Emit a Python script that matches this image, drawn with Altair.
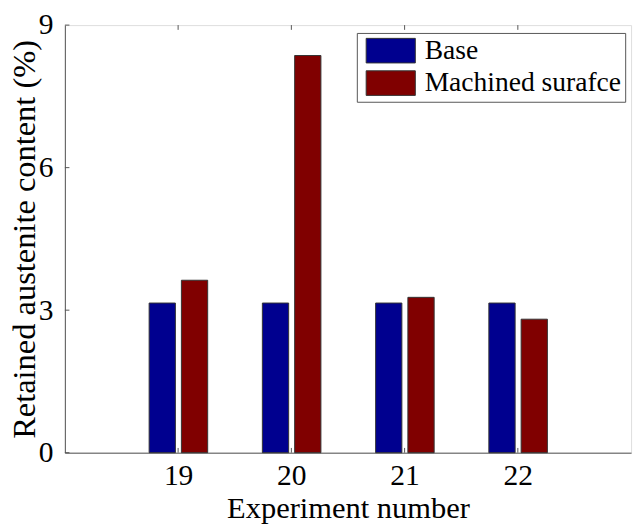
import altair as alt
import pandas as pd

experiments = [19, 20, 21, 22]
base = [3.15, 3.15, 3.15, 3.15]
machined = [3.63, 8.36, 3.27, 2.81]
series = ["Base", "Machined surafce"]
offsets = [-0.14, 0.145]
colors = ["#00008F", "#800000"]
y_ticks = [0, 3, 6, 9]

rows = []
for i, e in enumerate(experiments):
    rows.append({"exp": e, "series": series[0], "value": base[i], "off": offsets[0]})
    rows.append({"exp": e, "series": series[1], "value": machined[i], "off": offsets[1]})
df = pd.DataFrame(rows)

FONT = "Liberation Serif"
half = 0.116

xscale = alt.Scale(domain=[18, 23], nice=False, zero=False)
yscale = alt.Scale(domain=[0, 9], nice=False)

bars = alt.Chart(df).transform_calculate(
    x0=f"datum.exp + datum.off - {half}",
    x1=f"datum.exp + datum.off + {half}",
).mark_rect(stroke="#333333", strokeWidth=1).encode(
    x=alt.X("x0:Q", scale=xscale,
            axis=alt.Axis(values=experiments, title="Experiment number", format="d",
                          labelFont=FONT, labelFontSize=30, titleFont=FONT,
                          titleFontSize=31, titleFontWeight="normal", labelColor="black",
                          titleColor="black", tickSize=0, labelPadding=8, titlePadding=4,
                          domainColor="#555555", grid=False)),
    x2="x1:Q",
    y=alt.Y("value:Q", scale=yscale,
            axis=alt.Axis(values=y_ticks, title="Retained austenite content (%)",
                          labelFont=FONT, labelFontSize=30, titleFont=FONT,
                          titleFontSize=33, titleFontWeight="normal", labelColor="black",
                          titleColor="black", tickSize=0, labelPadding=12, titlePadding=-3,
                          domainColor="#555555", grid=False)),
    y2=alt.datum(0),
    color=alt.Color("series:N", scale=alt.Scale(domain=series, range=colors),
                    legend=alt.Legend(orient="none", legendX=297, legendY=8, title=None,
                                      symbolType="M-0.68,-1H3.32V1H-0.68Z", symbolSize=625,
                                      symbolStrokeColor="#333333", symbolStrokeWidth=1,
                                      labelFont=FONT, labelFontSize=28, labelColor="black",
                                      labelOffset=37, strokeColor="#555555",
                                      fillColor="white", padding=4, rowPadding=3,
                                      labelLimit=400)),
)

tick_df = pd.DataFrame({"t": experiments})
bottom_ticks = alt.Chart(tick_df).mark_rule(color="#555555", strokeWidth=1).encode(
    x=alt.X("t:Q", scale=xscale), y=alt.datum(0), y2=alt.datum(0.1))
top_ticks = alt.Chart(tick_df).mark_rule(color="#555555", strokeWidth=1).encode(
    x=alt.X("t:Q", scale=xscale), y=alt.datum(8.9), y2=alt.datum(9))

ytick_df = pd.DataFrame({"t": y_ticks})
left_ticks = alt.Chart(ytick_df).mark_rule(color="#555555", strokeWidth=1).encode(
    y=alt.Y("t:Q", scale=yscale), x=alt.datum(18), x2=alt.datum(18.04))

chart = alt.layer(bars, bottom_ticks, top_ticks, left_ticks).properties(
    width=576, height=435,
    autosize=alt.AutoSizeParams(type="none"),
    padding={"left": 66, "top": 21, "right": 5, "bottom": 68},
).configure_view(stroke="#555555", strokeWidth=1).configure(background="white")

chart.save("out.html", embed_options={"renderer": "svg", "actions": False})
